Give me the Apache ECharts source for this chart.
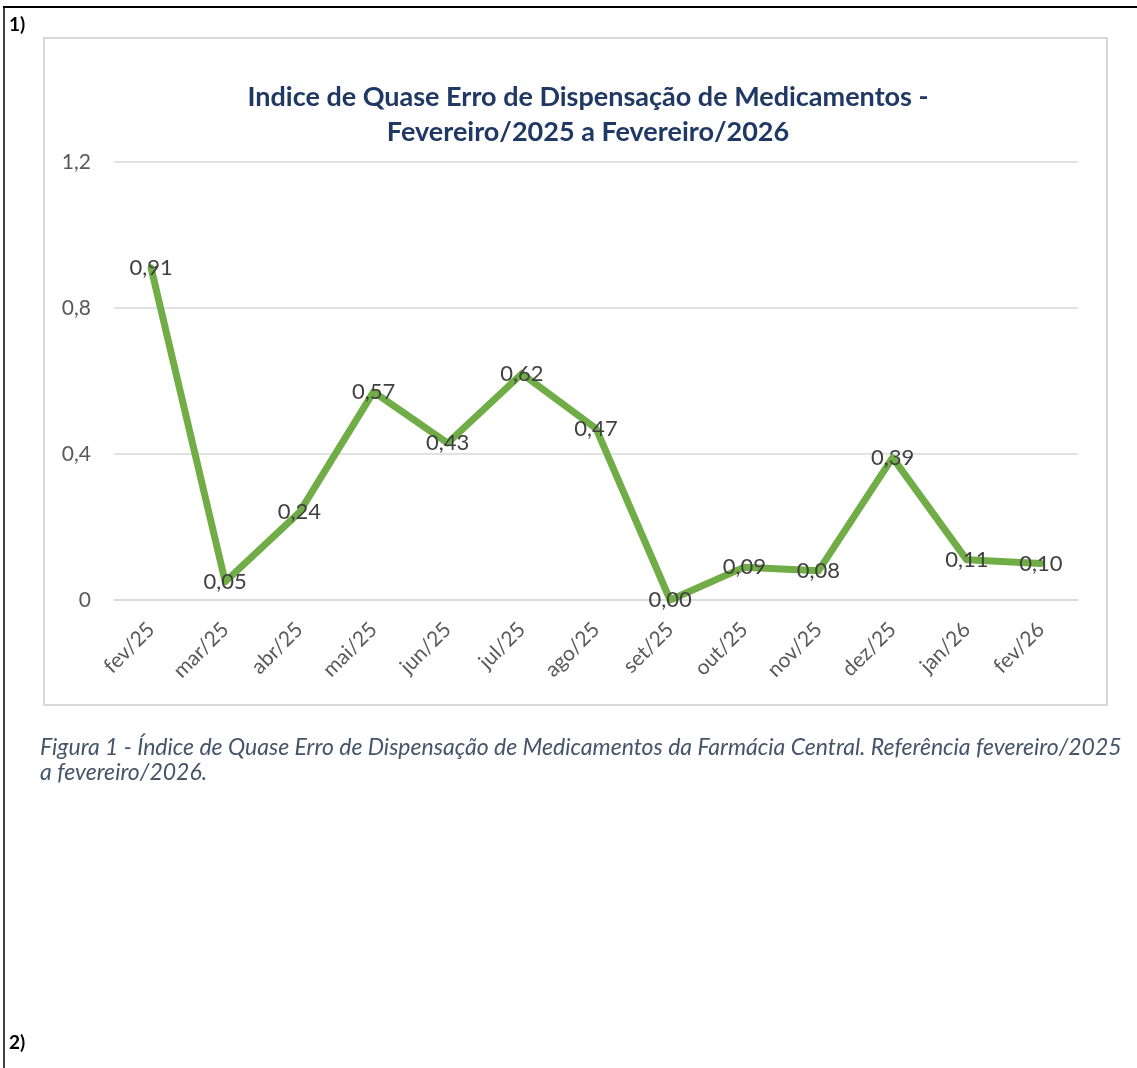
<!DOCTYPE html>
<html>
<head>
<meta charset="utf-8">
<script src="https://cdn.jsdelivr.net/npm/echarts@6/dist/echarts.min.js"></script>
<style>
html,body{margin:0;padding:0;background:#fff;}
#c{width:1137px;height:1068px;}
</style>
</head>
<body>
<div id="c"></div>
<script>
var categories = ['fev/25','mar/25','abr/25','mai/25','jun/25','jul/25','ago/25','set/25','out/25','nov/25','dez/25','jan/26','fev/26'];
var indice = [0.91, 0.05, 0.24, 0.57, 0.43, 0.62, 0.47, 0.00, 0.09, 0.08, 0.39, 0.11, 0.10];
var yTicks = {min: 0, max: 1.2, interval: 0.4};
var titleText = 'Indice de Quase Erro de Dispensação de Medicamentos -\nFevereiro/2025 a Fevereiro/2026';
var captionLines = ['Figura 1 - Índice de Quase Erro de Dispensação de Medicamentos da Farmácia Central. Referência fevereiro/2025', 'a fevereiro/2026.'];

var FONT = 'Lato, "Open Sans", sans-serif';
var chart = echarts.init(document.getElementById('c'), null, {renderer: 'canvas'});
function fmt(v){ return String(+v.toFixed(2)).replace('.', ','); }

chart.setOption({
  animation: false,
  backgroundColor: '#ffffff',
  grid: {left: 114, right: 59, top: 162, bottom: 468, containLabel: false},
  xAxis: {
    type: 'category',
    data: categories,
    boundaryGap: true,
    axisLine: {show: true, lineStyle: {color: '#d9d9d9', width: 1.5}},
    axisTick: {show: false},
    axisLabel: {interval: 0, rotate: 45, margin: 26, fontSize: 21, color: '#595959', fontFamily: FONT}
  },
  yAxis: {
    type: 'value',
    min: yTicks.min, max: yTicks.max, interval: yTicks.interval,
    axisLine: {show: false},
    axisTick: {show: false},
    splitLine: {lineStyle: {color: '#d9d9d9', width: 1.5}},
    axisLabel: {margin: 23, fontSize: 21, color: '#595959', fontFamily: FONT, formatter: function(v){ return fmt(v); }}
  },
  series: [{
    type: 'line',
    data: indice,
    symbol: 'circle',
    symbolSize: 2,
    itemStyle: {color: '#70ad47'},
    lineStyle: {color: '#70ad47', width: 7, cap: 'round', join: 'round'},
    label: {
      show: true, position: 'inside', fontSize: 22, color: '#404040', fontFamily: FONT,
      formatter: function(p){ return p.value.toFixed(2).replace('.', ','); }
    },
    z: 3
  }],
  graphic: [
    {type: 'line', shape: {x1: 3, y1: 7, x2: 1137, y2: 7}, style: {stroke: '#000', lineWidth: 2}, silent: true},
    {type: 'line', shape: {x1: 4, y1: 6, x2: 4, y2: 1068}, style: {stroke: '#000', lineWidth: 1.5}, silent: true},
    {type: 'rect', shape: {x: 44, y: 38, width: 1063, height: 667}, style: {fill: 'none', stroke: '#d9d9d9', lineWidth: 2}, silent: true, z: -1},
    {type: 'text', style: {text: '1)', x: 9, y: 25, verticalAlign: 'middle', font: 'bold 19px ' + FONT, fill: '#000'}},
    {type: 'text', style: {text: '2)', x: 9, y: 1043, verticalAlign: 'middle', font: 'bold 19px ' + FONT, fill: '#000'}},
    {type: 'text', style: {text: titleText, x: 588, y: 115, align: 'center', verticalAlign: 'middle', lineHeight: 35, font: 'bold 27px ' + FONT, fill: '#1f3864'}},
    {type: 'text', style: {text: captionLines[0], x: 40, y: 748, verticalAlign: 'middle', font: 'italic 23px ' + FONT, fill: '#44546a'}},
    {type: 'text', style: {text: captionLines[1], x: 40, y: 773, verticalAlign: 'middle', font: 'italic 23px ' + FONT, fill: '#44546a'}}
  ]
});
</script>
</body>
</html>
